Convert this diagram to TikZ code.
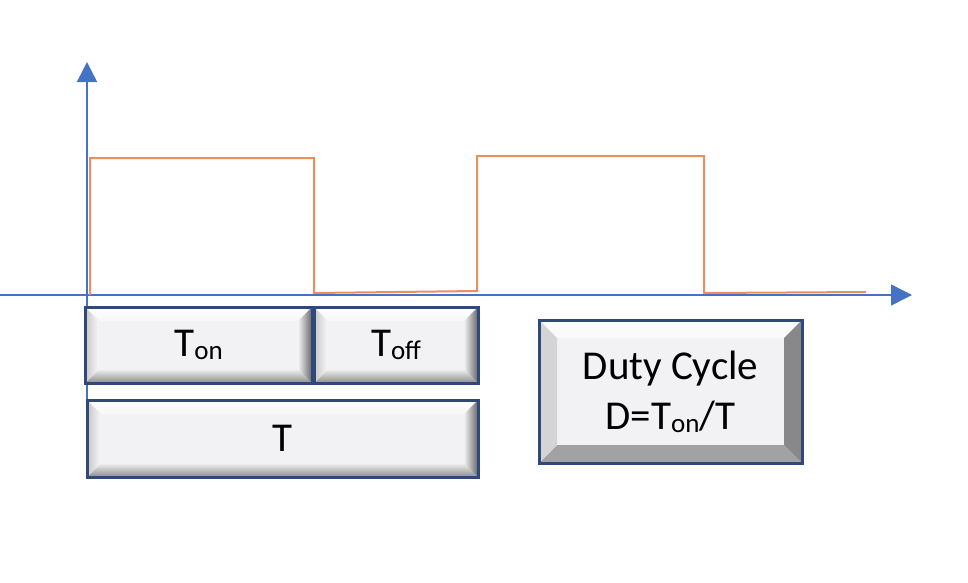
\documentclass[tikz,border=0pt]{standalone}
\usepackage{fontspec}
\setmainfont{Carlito}
\usetikzlibrary{arrows.meta}

\definecolor{axisblue}{HTML}{4472C4}
\definecolor{waveorange}{HTML}{E8915A}
\definecolor{boxnavy}{HTML}{2F4A78}
\definecolor{boxface}{HTML}{F2F1F3}
\definecolor{bevtop}{HTML}{FAFAFA}
\definecolor{bevleft}{HTML}{D4D4D6}
\definecolor{bevright}{HTML}{88888A}
\definecolor{bevbottom}{HTML}{A2A2A4}

\newcommand\sublow[1]{\raisebox{-3pt}{\fontsize{27}{27}\selectfont #1}}

% flat bevel (duty cycle box)
\newcommand\bevelfaces[1]{%
  \path (path picture bounding box.south west) coordinate (bsw)
        (path picture bounding box.north east) coordinate (bne);
  \fill[bevtop] (bsw |- bne) -- (bne) -- ([shift={(-#1pt,-#1pt)}]bne)
    -- ([shift={(#1pt,-#1pt)}]bsw |- bne) -- cycle;
  \fill[bevbottom] (bsw) -- (bne |- bsw) -- ([shift={(-#1pt,#1pt)}]bne |- bsw)
    -- ([shift={(#1pt,#1pt)}]bsw) -- cycle;
  \fill[bevleft] (bsw |- bne) -- (bsw) -- ([shift={(#1pt,#1pt)}]bsw)
    -- ([shift={(#1pt,-#1pt)}]bsw |- bne) -- cycle;
  \fill[bevright] (bne) -- (bne |- bsw) -- ([shift={(-#1pt,#1pt)}]bne |- bsw)
    -- ([shift={(-#1pt,-#1pt)}]bne) -- cycle;
}
% shaded bevel (time boxes)
\newcommand\softfaces[1]{%
  \path (path picture bounding box.south west) coordinate (bsw)
        (path picture bounding box.north east) coordinate (bne);
  \shade[top color=white, bottom color=boxface!60!white] (bsw |- bne) -- (bne) -- ([shift={(-#1pt,-#1pt)}]bne)
    -- ([shift={(#1pt,-#1pt)}]bsw |- bne) -- cycle;
  \shade[top color=boxface, bottom color=black!45] (bsw) -- (bne |- bsw) -- ([shift={(-#1pt,#1pt)}]bne |- bsw)
    -- ([shift={(#1pt,#1pt)}]bsw) -- cycle;
  \shade[left color=black!22, right color=boxface!50!white] (bsw |- bne) -- (bsw) -- ([shift={(#1pt,#1pt)}]bsw)
    -- ([shift={(#1pt,-#1pt)}]bsw |- bne) -- cycle;
  \shade[left color=boxface, right color=black!60] (bne) -- (bne |- bsw) -- ([shift={(-#1pt,#1pt)}]bne |- bsw)
    -- ([shift={(-#1pt,-#1pt)}]bne) -- cycle;
}

\begin{document}
\begin{tikzpicture}
	[x=1pt, y=-1pt,
	 every node/.style={inner sep=0, outer sep=0, font=\fontsize{41}{50}\selectfont},
	 bevelbox/.style={draw=boxnavy, line width=3pt, fill=boxface, align=center,
	   path picture={\bevelfaces{#1}}},
	 bevelbox/.default=18,
	 softbox/.style={draw=boxnavy, line width=3pt, fill=boxface, align=center,
	   path picture={\softfaces{#1}}},
	 softbox/.default=14,
	 axis/.style={axisblue, line width=1.5pt},
	 wave/.style={waveorange, line width=2pt}]
	\useasboundingbox (0,0) rectangle (968,582);
	% axes
	\draw [axis, -{Triangle[length=20pt, width=20pt]}] (87,402) -- (87,62);
	\draw [axis, -{Triangle[length=21pt, width=21pt]}] (0,295) -- (912,295);
	% pwm signal
	\draw [wave] (90,295) -- (90,158) -- (314,158) -- (314,293) -- (477,291)
		-- (477,156) -- (704,156) -- (704,293) -- (866,292);
	% time boxes
	\node (ton) [softbox, minimum width=227pt, minimum height=76pt] at (198.5,345) {T\sublow{on}};
	\node (toff) [softbox, minimum width=164pt, minimum height=76pt] at (396,345) {T\sublow{off}};
	\node (period) [softbox, minimum width=391pt, minimum height=77pt] at (282.5,438.5) {T};
	\node (duty) [bevelbox, minimum width=263pt, minimum height=143pt] at (670.5,391.5)
		{Duty Cycle\\D=T\sublow{on}/T};
\end{tikzpicture}
\end{document}
